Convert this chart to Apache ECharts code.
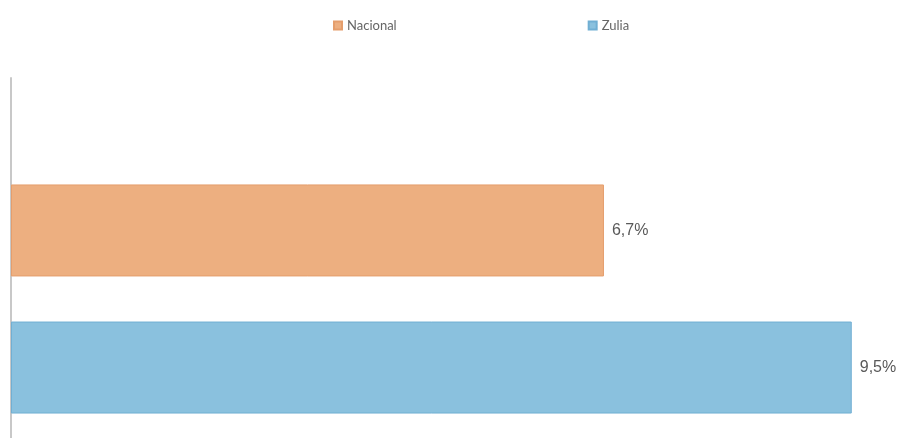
<!DOCTYPE html>
<html><head><meta charset="utf-8">
<script src="https://cdn.jsdelivr.net/npm/echarts@6/dist/echarts.min.js"></script>
<style>html,body{margin:0;padding:0;background:#fff}#c{width:916px;height:438px}</style>
</head><body><div id="c"></div>
<script>
const categories = ['Total'];
const seriesNames = ['Nacional', 'Zulia'];
const nacional = [6.7];
const zulia = [9.5];

const chart = echarts.init(document.getElementById('c'));
const fmt = p => String(p.value).replace('.', ',') + '%';
const labelStyle = { show: true, position: 'right', distance: 8, formatter: fmt,
  fontFamily: 'Liberation Sans', fontSize: 16, color: '#595959' };
chart.setOption({
  animation: false,
  legend: {
    data: seriesNames,
    top: 14,
    left: 328,
    itemGap: 191,
    itemWidth: 8,
    itemHeight: 8,
    icon: 'rect',
    textStyle: { fontFamily: 'Lato', fontSize: 13, color: '#666' }
  },
  grid: [
    { left: 11, right: 20, top: 160, height: 280 },
    { left: 11, right: 20, top: 78, bottom: 0 }
  ],
  xAxis: [
    { gridIndex: 0, type: 'value', min: 0, max: 10, show: false },
    { gridIndex: 1, type: 'value', min: 0, max: 10, show: false }
  ],
  yAxis: [
    { gridIndex: 0, type: 'category', data: categories, show: false },
    { gridIndex: 1, type: 'category', data: categories,
      axisLine: { show: true, lineStyle: { color: '#c8c8c8', width: 2 } },
      axisTick: { show: false }, axisLabel: { show: false } }
  ],
  series: [
    { name: 'Nacional', type: 'bar', data: nacional, barWidth: 92, barGap: '49%',
      itemStyle: { color: '#EDAF80', borderColor: '#E59E6C', borderWidth: 1 },
      label: labelStyle },
    { name: 'Zulia', type: 'bar', data: zulia, barWidth: 92, barGap: '49%',
      itemStyle: { color: '#8AC1DE', borderColor: '#71AFD3', borderWidth: 1 },
      label: labelStyle }
  ]
});
</script></body></html>
